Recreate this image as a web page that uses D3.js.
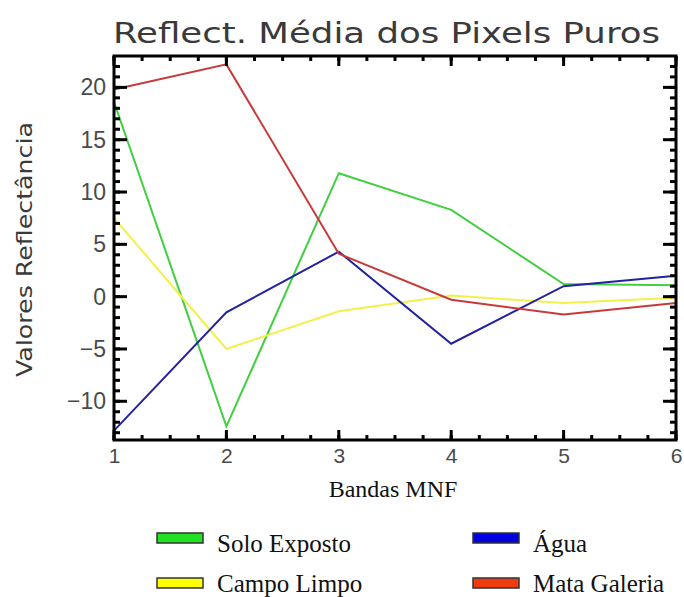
<!DOCTYPE html>
<html>
<head>
<meta charset="utf-8">
<script src="https://cdnjs.cloudflare.com/ajax/libs/d3/7.8.5/d3.min.js"></script>
<style>
  body { margin: 0; background: #fff; }
  svg { display: block; }
</style>
</head>
<body>
<div id="chart"></div>
<script>
// chart data
var bands = [1, 2, 3, 4, 5, 6];
var soloExposto = [18.6, -12.4, 11.8, 8.3, 1.2, 1.1];
var agua = [-12.8, -1.5, 4.3, -4.5, 1.0, 2.0];
var campoLimpo = [7.5, -5.0, -1.4, 0.1, -0.6, -0.1];
var mataGaleria = [19.8, 22.2, 4.1, -0.3, -1.7, -0.6];
var yTicks = [-10, -5, 0, 5, 10, 15, 20];

var series = [
  {name: "Solo Exposto", values: soloExposto, line: "#3fcf3f", swatch: "#22e022"},
  {name: "Campo Limpo", values: campoLimpo, line: "#f2f04a", swatch: "#ffff00"},
  {name: "Água", values: agua, line: "#22229e", swatch: "#0000e0"},
  {name: "Mata Galeria", values: mataGaleria, line: "#c83a3a", swatch: "#f03a10"}
];

var W = 684, H = 597;
var margin = {top: 56, right: 8, bottom: 157, left: 114};
var width = W - margin.left - margin.right,
    height = H - margin.top - margin.bottom;

var svg = d3.select("#chart").append("svg")
    .attr("width", W)
    .attr("height", H);

var g = svg.append("g")
    .attr("transform", "translate(" + margin.left + "," + margin.top + ")");

// scales
var x = d3.scaleLinear().domain([1, 6]).range([0, width]);
var y = d3.scaleLinear().domain([-13.7, 23]).range([height, 0]);

// lines
var line = d3.line()
    .x(function(d, i) { return x(bands[i]); })
    .y(function(d) { return y(d); });

g.selectAll(".series")
    .data(series)
  .enter().append("path")
    .attr("class", "series")
    .attr("fill", "none")
    .attr("stroke", function(d) { return d.line; })
    .attr("stroke-width", 2)
    .attr("d", function(d) { return line(d.values); });

// minor ticks
var xMinor = d3.range(1, 6.001, 0.25);
var yMinor = d3.range(-13, 23, 1);

function drawTicks(sel, vals, scale, len, orient) {
  sel.selectAll(null).data(vals).enter().append("line")
    .attr("stroke", "#000")
    .attr("stroke-width", 3)
    .each(function(v) {
      var el = d3.select(this);
      if (orient === "bottom") el.attr("x1", scale(v)).attr("x2", scale(v)).attr("y1", height).attr("y2", height - len);
      if (orient === "top") el.attr("x1", scale(v)).attr("x2", scale(v)).attr("y1", 0).attr("y2", len);
      if (orient === "left") el.attr("y1", scale(v)).attr("y2", scale(v)).attr("x1", 0).attr("x2", len);
      if (orient === "right") el.attr("y1", scale(v)).attr("y2", scale(v)).attr("x1", width).attr("x2", width - len);
    });
}

var ticks = g.append("g").attr("class", "ticks");
drawTicks(ticks, xMinor, x, 5, "bottom");
drawTicks(ticks, xMinor, x, 5, "top");
drawTicks(ticks, bands, x, 10, "bottom");
drawTicks(ticks, bands, x, 10, "top");
drawTicks(ticks, yMinor, y, 6, "left");
drawTicks(ticks, yMinor, y, 6, "right");
drawTicks(ticks, yTicks, y, 13, "left");
drawTicks(ticks, yTicks, y, 13, "right");

// frame
g.append("rect")
    .attr("width", width)
    .attr("height", height)
    .attr("fill", "none")
    .attr("stroke", "#000")
    .attr("stroke-width", 3);

// tick labels via axes
var xAxis = d3.axisBottom(x).tickValues(bands).tickSize(0).tickPadding(8).tickFormat(d3.format("d"));
var yAxis = d3.axisLeft(y).tickValues(yTicks).tickSize(0).tickPadding(8).tickFormat(function(d) { return d < 0 ? "\u2212" + Math.abs(d) : d; });

var xg = g.append("g")
    .attr("transform", "translate(0," + height + ")")
    .call(xAxis);
var yg = g.append("g").call(yAxis);

[xg, yg].forEach(function(a) {
  a.select(".domain").remove();
  a.selectAll("text")
    .attr("font-family", "Liberation Sans, Arial, sans-serif")
    .attr("font-size", 23)
    .attr("fill", "#4a4a4a");
});
xg.selectAll("text").attr("font-size", 21);

// title
svg.append("text")
    .attr("x", 113)
    .attr("y", 43)
    .attr("textLength", 547)
    .attr("lengthAdjust", "spacingAndGlyphs")
    .attr("font-family", "DejaVu Sans, sans-serif")
    .attr("font-size", 29)
    .attr("fill", "#3a3a3a")
    .text("Reflect. Média dos Pixels Puros");

// y label
svg.append("text")
    .attr("transform", "translate(32,377) rotate(-90)")
    .attr("textLength", 255)
    .attr("lengthAdjust", "spacingAndGlyphs")
    .attr("font-family", "DejaVu Sans, sans-serif")
    .attr("font-size", 22)
    .attr("fill", "#3a3a3a")
    .text("Valores Reflectância");

// x label
svg.append("text")
    .attr("x", 393)
    .attr("y", 497)
    .attr("text-anchor", "middle")
    .attr("font-family", "Liberation Serif, Times New Roman, serif")
    .attr("font-size", 24)
    .attr("fill", "#111")
    .text("Bandas MNF");

// legend
var legendPos = [[157, 538], [157, 583], [473, 538], [473, 583]];
var legend = svg.selectAll(".legend")
    .data(series)
  .enter().append("g")
    .attr("class", "legend")
    .attr("transform", function(d, i) { return "translate(" + legendPos[i][0] + "," + legendPos[i][1] + ")"; });

legend.append("rect")
    .attr("x", 0)
    .attr("y", -5)
    .attr("width", 46)
    .attr("height", 10)
    .attr("fill", function(d) { return d.swatch; })
    .attr("stroke", "#333")
    .attr("stroke-width", 1.5);

legend.append("text")
    .attr("x", 60)
    .attr("y", function(d, i) { return i % 2 === 0 ? 14 : 9; })
    .attr("font-family", "Liberation Serif, Times New Roman, serif")
    .attr("font-size", 25)
    .attr("fill", "#111")
    .text(function(d) { return d.name; });
</script>
</body>
</html>
